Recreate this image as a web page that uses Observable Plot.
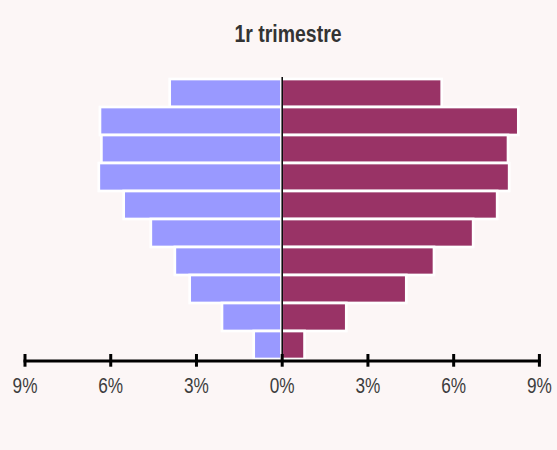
<!DOCTYPE html>
<html>
<head>
<meta charset="utf-8">
<script src="https://cdn.jsdelivr.net/npm/d3@7"></script>
<script src="https://cdn.jsdelivr.net/npm/@observablehq/plot@0.6"></script>
<style>
  html, body { margin: 0; padding: 0; background: #fcf6f6; }
  #wrap { width: 557px; height: 450px; overflow: hidden; background: #fcf6f6; }
  #title {
    box-sizing: border-box; width: 557px; height: 60px;
    padding-top: 22.4px; padding-left: 20px;
    text-align: center; font: bold 24px/24px "Liberation Sans", Arial, sans-serif;
    color: #333;
  }
  #title span { display: inline-block; transform: scaleX(0.81); transform-origin: 50% 50%; }
</style>
</head>
<body>
<div id="wrap">
  <div id="title"><span>1r trimestre</span></div>
  <div id="chart"></div>
</div>
<script>
const grups = ["65 i més", "55-64", "50-54", "45-49", "40-44", "35-39", "30-34", "25-29", "20-24", "16-19"];
const esquerra = [3.92, 6.36, 6.31, 6.40, 5.53, 4.58, 3.74, 3.22, 2.09, 0.98];
const dreta = [5.60, 8.28, 7.92, 7.96, 7.54, 6.70, 5.33, 4.36, 2.26, 0.80];
const marques = [-9, -6, -3, 0, 3, 6, 9];

const dades = grups.map((g, i) => ({grup: g, esquerra: esquerra[i], dreta: dreta[i]}));

const chart = Plot.plot({
  width: 557,
  height: 390,
  marginTop: 17,
  marginBottom: 89.5,
  marginLeft: 24.5,
  marginRight: 18.1,
  style: {background: "#fcf6f6", fontFamily: "'Liberation Sans', Arial, sans-serif", overflow: "visible"},
  x: {domain: [-9, 9], axis: null},
  y: {domain: grups, padding: 0, axis: null},
  marks: [
    Plot.barX(dades, {y: "grup", x: d => -d.esquerra, fill: "#9999ff", stroke: "white", strokeWidth: 2.7}),
    Plot.barX(dades, {y: "grup", x: d => d.dreta, fill: "#993366", stroke: "white", strokeWidth: 2.7}),
    Plot.ruleX([0], {stroke: "black", strokeWidth: 1.5}),
    Plot.frame({anchor: "bottom", stroke: "black", strokeWidth: 3}),
    Plot.axisX(marques, {
      anchor: "bottom",
      tickSize: 12.7,
      dy: -6.5,
      tickPadding: 10.6,
      stroke: "black",
      strokeWidth: 3,
      fill: "#3d3d3d",
      fontSize: 21.5,
      tickFormat: d => Math.abs(d) + "%"
    })
  ]
});
document.getElementById("chart").appendChild(chart);
// condense the tick labels to match the narrow typeface of the reference
chart.querySelectorAll('g[aria-label="x-axis tick label"] text').forEach(t => {
  const len = t.getComputedTextLength();
  t.setAttribute("textLength", (len * 0.80).toFixed(1));
  t.setAttribute("lengthAdjust", "spacingAndGlyphs");
});
</script>
</body>
</html>
